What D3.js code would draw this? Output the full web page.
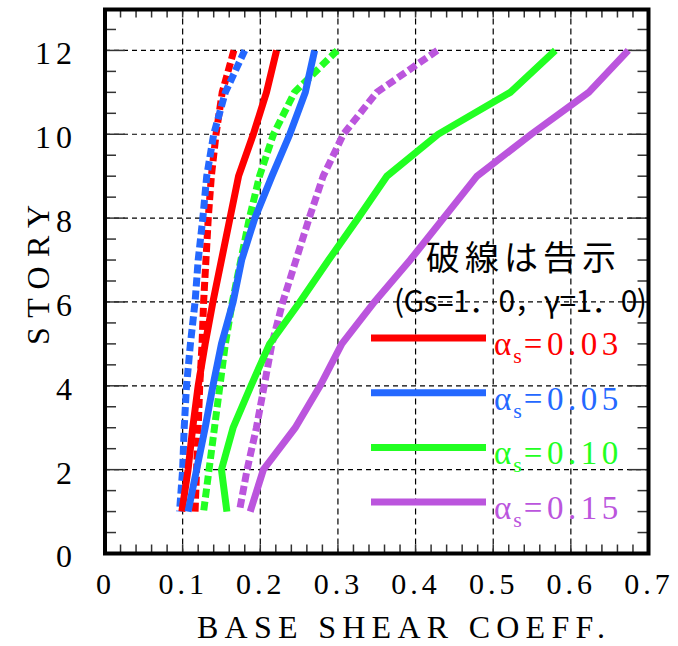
<!DOCTYPE html>
<html><head><meta charset="utf-8">
<script src="https://cdn.jsdelivr.net/npm/d3@7/dist/d3.min.js"></script>
<style>html,body{margin:0;padding:0;background:#fff;}</style>
</head><body>
<svg id="c" width="678" height="646"></svg>
<script>
// ---- data ----
const stories = [1,2,3,4,5,6,7,8,9,10,11,12];
const alphaLabels = ["0.03","0.05","0.10","0.15"];
const seriesColors = ["#ff0000","#2468ff","#22ff22","#bb55dd"];
const analysis003 = [0.099,0.107,0.113,0.120,0.129,0.139,0.150,0.161,0.172,0.191,0.208,0.221];
const analysis005 = [0.107,0.118,0.129,0.139,0.150,0.165,0.176,0.193,0.215,0.238,0.258,0.270];
const analysis010 = [0.157,0.150,0.165,0.188,0.212,0.251,0.288,0.326,0.363,0.429,0.522,0.580];
const analysis015 = [0.187,0.204,0.245,0.277,0.305,0.347,0.393,0.436,0.479,0.549,0.623,0.674];
const code003 = [0.116,0.118,0.120,0.122,0.125,0.127,0.130,0.133,0.137,0.143,0.151,0.166];
const code005 = [0.096,0.100,0.102,0.105,0.110,0.116,0.120,0.126,0.131,0.140,0.155,0.180];
const code010 = [0.127,0.134,0.141,0.148,0.155,0.164,0.175,0.186,0.199,0.217,0.244,0.299];
const code015 = [0.173,0.183,0.195,0.205,0.215,0.229,0.246,0.263,0.281,0.307,0.350,0.428];
const xTickValues = [0,0.1,0.2,0.3,0.4,0.5,0.6,0.7];
const xTickLabels = ["0","0.1","0.2","0.3","0.4","0.5","0.6","0.7"];
const yTickValues = [0,2,4,6,8,10,12];
const yTickLabels = ["0","2","4","6","8","10","12"];
const xTitle = "BASE SHEAR COEFF.";
const yTitle = "STORY";
const noteLine1 = "破線は告示";
const noteLine2 = "(Gs=1．0，γ=1．0)";

const analysis = [analysis003, analysis005, analysis010, analysis015];
const code = [code003, code005, code010, code015];

// ---- layout ----
const L = 105, R = 648.5, T = 8.5, B = 553.5;
const x = d3.scaleLinear().domain([0,0.7]).range([L,R]);
const y = d3.scaleLinear().domain([0,13]).range([B,T]);
const svg = d3.select("#c");
const serif = "'Liberation Serif','Times New Roman',serif";
const cjk = "'Noto Sans CJK JP','Noto Sans CJK SC',sans-serif";

// grid
const g = svg.append("g");
g.selectAll("line.vg").data(xTickValues.filter(v=>v>0&&v<0.7)).join("line")
  .attr("x1",d=>x(d)).attr("x2",d=>x(d)).attr("y1",T).attr("y2",B)
  .attr("stroke","#000").attr("stroke-width",1.2).attr("stroke-dasharray","6,4");
g.selectAll("line.hg").data(yTickValues.filter(v=>v>0)).join("line")
  .attr("y1",d=>y(d)).attr("y2",d=>y(d)).attr("x1",L).attr("x2",R)
  .attr("stroke","#000").attr("stroke-width",1.2).attr("stroke-dasharray","5,4");

// minor ticks
const xMinor = d3.range(1,35).map(i=>i*0.02);
const yMinor = d3.range(1,26).map(i=>i*0.5);
const tk = svg.append("g").attr("stroke","#333").attr("stroke-width",1.5);
xMinor.forEach(v=>{
  tk.append("line").attr("x1",x(v)).attr("x2",x(v)).attr("y1",B).attr("y2",B-9);
  tk.append("line").attr("x1",x(v)).attr("x2",x(v)).attr("y1",T).attr("y2",T+9);
});
yMinor.forEach(v=>{
  const len = (v%2===0)?20:11;
  tk.append("line").attr("y1",y(v)).attr("y2",y(v)).attr("x1",L).attr("x2",L+len);
  tk.append("line").attr("y1",y(v)).attr("y2",y(v)).attr("x1",R).attr("x2",R-len);
});

// axes labels via d3 axes
const xa = svg.append("g").attr("transform",`translate(0,${B})`)
  .call(d3.axisBottom(x).tickValues(xTickValues).tickFormat((d,i)=>xTickLabels[i]).tickSize(0).tickPadding(0));
xa.select(".domain").remove();
xa.attr("font-family",serif);
xa.selectAll("text").attr("y",40.5).attr("dy",null)
  .style("font-family",serif).attr("font-size",30).attr("fill","#000")
  .attr("letter-spacing","4px");
const ya = svg.append("g").attr("transform",`translate(${L},0)`)
  .call(d3.axisLeft(y).tickValues(yTickValues).tickFormat((d,i)=>yTickLabels[i]).tickSize(0).tickPadding(0));
ya.select(".domain").remove();
ya.attr("font-family",serif);
ya.selectAll("text").attr("x",-28).attr("dy","0.42em")
  .style("font-family",serif).attr("font-size",32).attr("fill","#000")
  .attr("letter-spacing","5px");

// series
const line = d3.line().x(d=>x(d.v)).y(d=>y(d.s)).curve(d3.curveLinear);
code.forEach((arr,i)=>{
  const pts = stories.map((s,j)=>({s, v:arr[j]})).reverse();
  svg.append("path").attr("d",line(pts)).attr("fill","none")
    .attr("stroke",seriesColors[i]).attr("stroke-width",7)
    .attr("stroke-dasharray","9,4");
});
analysis.forEach((arr,i)=>{
  const pts = stories.map((s,j)=>({s, v:arr[j]}));
  svg.append("path").attr("d",line(pts)).attr("fill","none")
    .attr("stroke",seriesColors[i]).attr("stroke-width",7)
    .attr("stroke-linejoin","miter");
});

// frame
svg.append("rect").attr("x",L).attr("y",T+1).attr("width",R-L).attr("height",B-T-1)
  .attr("fill","none").attr("stroke","#000").attr("stroke-width",4);

// titles
svg.append("text").attr("x",401).attr("y",638).attr("text-anchor","middle")
  .style("font-family",serif).attr("font-size",32).attr("textLength",408)
  .attr("lengthAdjust","spacing").text(xTitle);
svg.append("text").attr("transform","translate(49,275) rotate(-90)").attr("text-anchor","middle")
  .style("font-family",serif).attr("font-size",32).attr("textLength",140)
  .attr("lengthAdjust","spacing").text(yTitle);

// note
svg.append("text").attr("x",426).attr("y",270).style("font-family",cjk).attr("font-size",34)
  .attr("textLength",190).attr("lengthAdjust","spacing").text(noteLine1);
svg.append("text").attr("x",394).attr("y",312).style("font-family",cjk).attr("font-size",30)
  .attr("textLength",253).attr("lengthAdjust","spacing").text(noteLine2);

// legend
const ly0 = 338, ldy = 54.7;
alphaLabels.forEach((lab,i)=>{
  const yy = ly0 + i*ldy;
  svg.append("line").attr("x1",371).attr("x2",486).attr("y1",yy).attr("y2",yy)
    .attr("stroke",seriesColors[i]).attr("stroke-width",7);
  const t = svg.append("text").attr("x",494).attr("y",yy+17).style("font-family",serif)
    .attr("fill",seriesColors[i]);
  t.append("tspan").attr("font-size",33).text("α");
  t.append("tspan").attr("font-size",22).attr("dy",8).attr("dx",2).text("s");
  t.append("tspan").attr("font-size",33).attr("dy",-8).attr("dx",2)
    .attr("letter-spacing","4.5px").text("="+lab);
});
</script>
</body></html>
